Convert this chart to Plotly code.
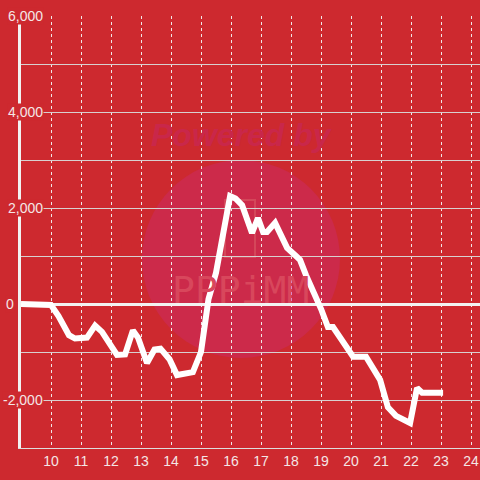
import plotly.graph_objects as go

hours = [9.0, 9.9, 10.0, 10.25, 10.6, 10.8, 11.2, 11.47, 11.7, 12.2, 12.47, 12.73, 12.9,
         13.2, 13.45, 13.65, 13.95, 14.2, 14.45, 14.73, 15.0, 15.25, 15.5, 15.75, 15.97,
         16.15, 16.37, 16.7, 16.9, 17.07, 17.2, 17.47, 17.6, 17.87, 18.13, 18.3, 18.5,
         18.8, 19.0, 19.23, 19.4, 20.07, 20.5, 20.97, 21.23, 21.5, 21.97, 22.2, 22.37, 23.07]
values = [0, 0, -20, -250, -650, -720, -700, -450, -580, -1060, -1050, -550, -700,
          -1230, -950, -930, -1150, -1480, -1450, -1420, -1000, 100, 650, 1500, 2250,
          2200, 2060, 1480, 1790, 1500, 1500, 1690, 1500, 1170, 1020, 920, 600,
          200, -100, -480, -480, -1100, -1100, -1580, -2150, -2330, -2480, -1750, -1850, -1850]

x_ticks = list(range(10, 25))
y_label_vals = [6000, 4000, 2000, 0, -2000]
y_label_text = ["6,000", "4,000", "2,000", "0", "-2,000"]

BG = "#CD292F"
TXT = "#F4E6E6"

fig = go.Figure()
fig.add_trace(go.Scatter(x=hours, y=values, mode="lines",
                         line=dict(color="white", width=6), hoverinfo="skip"))

# watermark
fig.add_shape(type="circle", xref="paper", yref="paper",
              x0=(142 - 21) / 459, x1=(340 - 21) / 459,
              y0=(448 - 358) / 432, y1=(448 - 160) / 432,
              fillcolor="#CC2A4A", line=dict(width=0), layer="below")
fig.add_shape(type="rect", xref="paper", yref="paper",
              x0=(225 - 21) / 459, x1=(255 - 21) / 459,
              y0=(448 - 257) / 432, y1=(448 - 200) / 432,
              fillcolor="rgba(0,0,0,0)", line=dict(width=2, color="#D4475A"), layer="below")
fig.add_annotation(xref="paper", yref="paper", x=(242 - 21) / 459, y=(448 - 135) / 432,
                   xanchor="center", yanchor="middle",
                   text="<b><i>Powered by</i></b>", showarrow=False,
                   font=dict(size=32, color="#C9274A", family="Liberation Sans"))
fig.add_annotation(xref="paper", yref="paper", x=(240 - 21) / 459, y=(448 - 290) / 432,
                   xanchor="center", yanchor="middle",
                   text="PPPiMM", showarrow=False,
                   font=dict(size=38, color="#D8475C", family="DejaVu Sans Mono"))

for v, t in zip(y_label_vals, y_label_text):
    fig.add_annotation(xref="paper", yref="y", x=0, y=v, text=t, showarrow=False,
                       xanchor="right", yanchor="middle", xshift=(23 if v != 0 else -6),
                       bgcolor=BG, borderpad=0,
                       font=dict(size=14, color=TXT, family="Liberation Sans"))

fig.update_layout(
    width=480, height=480,
    paper_bgcolor=BG, plot_bgcolor=BG,
    margin=dict(l=21, r=0, t=16, b=32, autoexpand=False),
    showlegend=False,
    xaxis=dict(range=[9, 24.3], tickmode="array", tickvals=x_ticks,
               ticktext=[str(t) for t in x_ticks], automargin=False,
               showgrid=True, gridcolor="#F0E8E8", griddash="dot", gridwidth=1,
               showline=True, linecolor="#DDDDDD", linewidth=1,
               zeroline=False, ticks="",
               tickfont=dict(size=14, color=TXT, family="Liberation Sans")),
    yaxis=dict(range=[-3000, 6000], dtick=1000, showticklabels=False, automargin=False,
               showgrid=True, gridcolor="#D8D0D0", gridwidth=1,
               showline=True, linecolor="#F2F2F2", linewidth=3,
               zeroline=True, zerolinecolor="#F2F2F2", zerolinewidth=3, ticks=""),
)

fig.write_html("out.html", config={"displayModeBar": False},
               post_script="document.body.style.margin='0';document.body.style.overflow='hidden';")
